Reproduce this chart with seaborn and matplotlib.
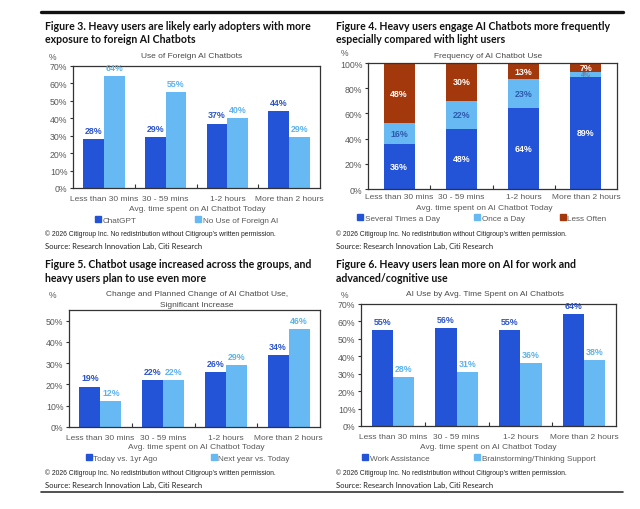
import matplotlib
matplotlib.use("Agg")
import matplotlib.pyplot as plt
from matplotlib.lines import Line2D
import seaborn as sns
import pandas as pd
import numpy as np

groups = ['Less than 30 mins', '30 - 59 mins', '1-2 hours', 'More than 2 hours']

fig3_series = ['ChatGPT', 'No Use of Foreign AI']
fig3_chatgpt = [28, 29, 37, 44]
fig3_no_foreign = [64, 55, 40, 29]

fig4_series = ['Several Times a Day', 'Once a Day', 'Less Often']
fig4_several = [36, 48, 64, 89]
fig4_once = [16, 22, 23, 4]
fig4_less = [48, 30, 13, 7]

fig5_series = ['Today vs. 1yr Ago', 'Next year vs. Today']
fig5_today = [19, 22, 26, 34]
fig5_next = [12, 22, 29, 46]

fig6_series = ['Work Assistance', 'Brainstorming/Thinking Support']
fig6_work = [55, 56, 55, 64]
fig6_brain = [28, 31, 36, 38]

DARK = '#2353D6'
LIGHT = '#66B9F2'
BROWN = '#A3380C'
DARK_LBL = '#2C55C8'
LIGHT_LBL = '#5CB3EC'
GREY = '#5a5a5a'

W, H = 640, 510

sns.set_theme(style='white')
plt.rcParams['font.family'] = ['Liberation Sans', 'DejaVu Sans']
TITLE_FONT = ['Lato', 'DejaVu Sans']

fig = plt.figure(figsize=(6.4, 5.1), dpi=100)


def rect(l, t, r, b):
    return [l / W, 1 - b / H, (r - l) / W, (b - t) / H]


def ftext(x, y, s, **kw):
    kw.setdefault('va', 'center')
    fig.text(x / W, 1 - y / H, s, **kw)


def style_axes(ax, ymax, step, ylim=None, pad=5):
    ax.set_ylim(0, ylim if ylim else ymax)
    ticks = list(range(0, ymax + 1, step))
    ax.set_yticks(ticks)
    ax.set_yticklabels([f'{t}%' for t in ticks])
    ax.set_xticks(range(4))
    ax.set_xticklabels(groups)
    ax.set_xticks([0.5, 1.5, 2.5], minor=True)
    ax.tick_params(axis='x', which='major', length=0, labelsize=6.0, labelcolor=GREY, pad=pad)
    ax.tick_params(axis='x', which='minor', length=3, direction='in', color='#333', width=0.8, bottom=True)
    ax.tick_params(axis='y', length=2, direction='out', color='#333', width=0.8, labelsize=6.3,
                   labelcolor=GREY, pad=2, left=True)
    ax.set_xlabel('')
    ax.set_ylabel('')
    for sp in ax.spines.values():
        sp.set_visible(True)
        sp.set_color('#333333')
        sp.set_linewidth(0.9)


def legend(ax, labels, colors, x, y, spacing):
    handles = [Line2D([], [], marker='s', linestyle='', markersize=4.3, color=c) for c in colors]
    ax.legend(handles, labels, ncol=len(labels), loc='center', bbox_to_anchor=(x / W, 1 - y / H),
              bbox_transform=fig.transFigure, frameon=False, fontsize=5.9, handlelength=0.6,
              handletextpad=0.25, columnspacing=spacing, labelcolor=GREY, borderpad=0)


def grouped(ax, series, a, b, ymax, step, ylim=None):
    df = pd.DataFrame({'group': groups * 2,
                       'series': [series[0]] * 4 + [series[1]] * 4,
                       'value': a + b})
    sns.barplot(data=df, x='group', y='value', hue='series', palette=[DARK, LIGHT],
                width=0.67, gap=0, saturation=1, linewidth=0, ax=ax, legend=False)
    for cont, lc in zip(ax.containers, [DARK_LBL, LIGHT_LBL]):
        ax.bar_label(cont, fmt='%d%%', padding=3, color=lc, fontsize=6.4, fontweight='bold')
    style_axes(ax, ymax, step, ylim)


# Figure 3
ax1 = fig.add_axes(rect(73, 67, 320, 189))
grouped(ax1, fig3_series, fig3_chatgpt, fig3_no_foreign, 70, 10)
for t in ax1.texts:
    t.set_clip_on(False)

# Figure 4 (stacked)
ax2 = fig.add_axes(rect(368, 64, 617, 190))
c1 = np.array(fig4_several)
c2 = c1 + np.array(fig4_once)
c3 = c2 + np.array(fig4_less)
for vals, col in [(c3, BROWN), (c2, LIGHT), (c1, DARK)]:
    sns.barplot(x=groups, y=vals, color=col, width=0.5, saturation=1, linewidth=0, ax=ax2)
style_axes(ax2, 100, 20, pad=3)
for i in range(4):
    ax2.text(i, c1[i] / 2, f'{fig4_several[i]}%', ha='center', va='center', color='white',
             fontsize=6.4, fontweight='bold')
    small = fig4_once[i] <= 5
    ax2.text(i, c1[i] + fig4_once[i] / 2, f'{fig4_once[i]}%', ha='center', va='center',
             color='#6a7fa0' if small else '#2F5AAE', fontsize=5.0 if small else 6.4,
             fontweight='bold')
    ax2.text(i, c2[i] + fig4_less[i] / 2, f'{fig4_less[i]}%', ha='center', va='center', color='white',
             fontsize=6.4, fontweight='bold')

# Figure 5
ax3 = fig.add_axes(rect(69, 311, 320, 428))
grouped(ax3, fig5_series, fig5_today, fig5_next, 50, 10, ylim=55)

# Figure 6
ax4 = fig.add_axes(rect(361, 305, 616, 427))
grouped(ax4, fig6_series, fig6_work, fig6_brain, 70, 10)
for t in ax4.texts:
    t.set_clip_on(False)

# rules
fig.add_artist(Line2D([41 / W, 623 / W], [1 - 13 / H] * 2, color='#111111', lw=2.4))
fig.add_artist(Line2D([41 / W, 623 / W], [1 - 493 / H] * 2, color='#333333', lw=1.2))

# figure titles
tkw = dict(fontsize=7.6, fontweight='bold', family=TITLE_FONT, color='#111111', va='center')
ftext(45, 26, 'Figure 3. Heavy users are likely early adopters with more', **tkw)
ftext(45, 40, 'exposure to foreign AI Chatbots', **tkw)
ftext(336, 26, 'Figure 4. Heavy users engage AI Chatbots more frequently', **tkw)
ftext(336, 40, 'especially compared with light users', **tkw)
ftext(45, 265, 'Figure 5. Chatbot usage increased across the groups, and', **tkw)
ftext(45, 279, 'heavy users plan to use even more', **tkw)
ftext(336, 265, 'Figure 6. Heavy users lean more on AI for work and', **tkw)
ftext(336, 279, 'advanced/cognitive use', **tkw)

# chart titles and % marks
ckw = dict(fontsize=6.0, color='#4a4a4a', ha='center')
ftext(192, 57, 'Use of Foreign AI Chatbots', **ckw)
ftext(488, 57, 'Frequency of AI Chatbot Use', **ckw)
ftext(197, 295, 'Change and Planned Change of AI Chatbot Use,', **ckw)
ftext(197, 306, 'Significant Increase', **ckw)
ftext(485, 295, 'AI Use by Avg. Time Spent on AI Chatbots', **ckw)
pkw = dict(fontsize=6.2, color=GREY)
ftext(49, 57, '%', **pkw)
ftext(341, 53, '%', **pkw)
ftext(49, 295, '%', **pkw)
ftext(341, 295, '%', **pkw)

# x axis titles
xkw = dict(fontsize=6.0, color=GREY, ha='center')
ftext(197, 210, 'Avg. time spent on AI Chatbot Today', **xkw)
ftext(484, 208.5, 'Avg. time spent on AI Chatbot Today', **xkw)
ftext(196, 448, 'Avg. time spent on AI Chatbot Today', **xkw)
ftext(488, 448, 'Avg. time spent on AI Chatbot Today', **xkw)

# legends
legend(ax1, fig3_series, [DARK, LIGHT], 187, 221, 7.2)
legend(ax2, fig4_series, [DARK, LIGHT, BROWN], 482, 219, 4.3)
legend(ax3, fig5_series, [DARK, LIGHT], 188, 459, 6.5)
legend(ax4, fig6_series, [DARK, LIGHT], 479, 459, 5.5)

# footnotes
cp = '\u00a9 2026 Citigroup Inc. No redistribution without Citigroup\u2019s written permission.'
src = 'Source: Research Innovation Lab, Citi Research'
fkw = dict(fontsize=4.9, color='#222222')
skw = dict(fontsize=5.5, color='#222222', family=['Lato', 'DejaVu Sans'])
for x0, y0 in [(45, 234), (336, 234), (45, 473), (336, 473)]:
    ftext(x0, y0, cp, **fkw)
    ftext(x0, y0 + 12.5, src, **skw)

fig.savefig('out.png', dpi=100)
